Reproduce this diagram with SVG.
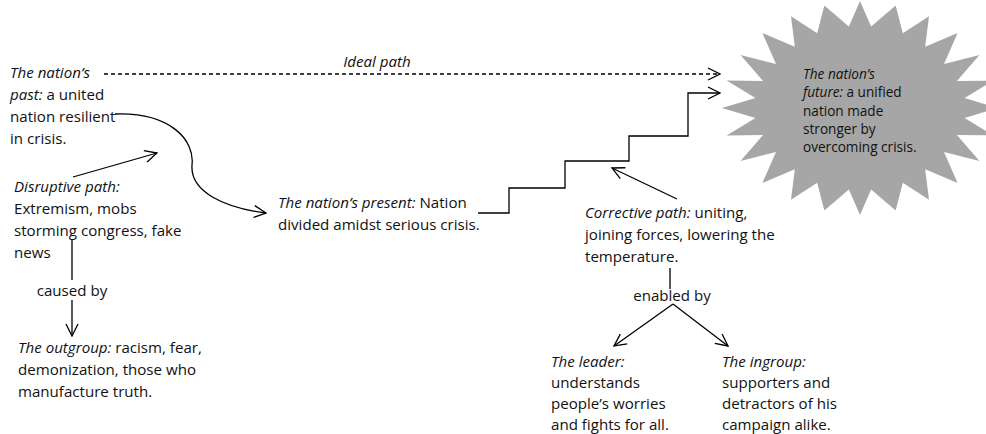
<svg xmlns="http://www.w3.org/2000/svg" width="986" height="434" viewBox="0 0 986 434">
<style>
text{font-family:"Open Sans",Lato,"Liberation Sans",sans-serif;font-size:15.1px;fill:#111}
.s{font-size:13.6px}
.i{font-style:italic}
.c{text-anchor:middle}
.ln{fill:none;stroke:#000;stroke-width:1.3}
.d{stroke-dasharray:4 3}
</style>
<defs>
<marker id="open" viewBox="0 0 14 14" refX="13" refY="7" markerWidth="14" markerHeight="14" markerUnits="userSpaceOnUse" orient="auto">
<path d="M1,1 L13,7 L1,13" fill="none" stroke="#000" stroke-width="1.3"/>
</marker>
</defs>
<g id="future">
<polygon fill="#a6a6a6" points="860,1 871.1,26.6 895.7,5.6 902.8,33.3 929,16.2 925.2,46.7 957.6,33.1 944,64.1 979.5,55 956.9,81.1 993.3,80.6 964.6,98.1 998,108 964.6,117.9 993.3,135.4 956.9,134.9 979.5,161 944,151.9 957.6,182.9 925.2,169.3 929,199.8 902.8,182.7 895.7,210.4 871.1,189.4 860,215 848.9,189.4 824.3,210.4 817.2,182.7 791,199.8 794.8,169.3 762.4,182.9 776,151.9 740.5,161 763.1,134.9 726.7,135.4 755.4,117.9 722,108 755.4,98.1 726.7,80.6 763.1,81.1 740.5,55 776,64.1 762.4,33.1 794.8,46.7 791,16.2 817.2,33.3 824.3,5.6 848.9,26.6"/>
</g>
<g id="connectors">
<path class="ln d" d="M104,74 H720" marker-end="url(#open)"/>
<path class="ln" d="M478,213 H509 V188 H565 V161 H629 V136 H688 V93 H720" marker-end="url(#open)"/>
<path class="ln" d="M115,114 C170,112 195,140 192,165 C190,192 225,208 266,213" marker-end="url(#open)"/>
<path class="ln" d="M73,177 L157,153" marker-end="url(#open)"/>
<path class="ln" d="M72,240 V280"/>
<path class="ln" d="M72,300 V336" marker-end="url(#open)"/>
<path class="ln" d="M677,199 L612,168" marker-end="url(#open)"/>
<path class="ln" d="M670,268 V289"/>
<path class="ln" d="M673,304 L614,346" marker-end="url(#open)"/>
<path class="ln" d="M673,304 L728,346" marker-end="url(#open)"/>
</g>
<g id="ideal-label"><text class="i c" x="377" y="67">Ideal path</text></g>
<g id="past">
<text x="10" y="78"><tspan class="i">The nation’s</tspan></text>
<text x="10" y="100"><tspan class="i">past:</tspan> a united</text>
<text x="10" y="122">nation resilient</text>
<text x="10" y="144">in crisis.</text>
</g>
<g id="disruptive">
<text x="14" y="192" class="i">Disruptive path:</text>
<text x="14" y="214">Extremism, mobs</text>
<text x="14" y="236">storming congress, fake</text>
<text x="14" y="258">news</text>
</g>
<g id="caused-label"><text class="c" x="72" y="296">caused by</text></g>
<g id="outgroup">
<text x="18" y="353"><tspan class="i">The outgroup:</tspan> racism, fear,</text>
<text x="18" y="375">demonization, those who</text>
<text x="18" y="397">manufacture truth.</text>
</g>
<g id="present">
<text x="278" y="208"><tspan class="i">The nation’s present:</tspan> Nation</text>
<text x="278" y="230">divided amidst serious crisis.</text>
</g>
<g id="corrective">
<text x="585" y="218"><tspan class="i">Corrective path:</tspan> uniting,</text>
<text x="585" y="240">joining forces, lowering the</text>
<text x="585" y="262">temperature.</text>
</g>
<g id="enabled-label"><text class="c" x="672" y="301">enabled by</text></g>
<g id="leader">
<text x="551" y="367" class="i">The leader:</text>
<text x="551" y="388">understands</text>
<text x="551" y="409">people’s worries</text>
<text x="551" y="430">and fights for all.</text>
</g>
<g id="ingroup">
<text x="722" y="367" class="i">The ingroup:</text>
<text x="722" y="388">supporters and</text>
<text x="722" y="409">detractors of his</text>
<text x="722" y="430">campaign alike.</text>
</g>
<g id="future-text">
<text class="s i" x="803" y="79">The nation’s</text>
<text class="s" x="803" y="97"><tspan class="i">future:</tspan> a unified</text>
<text class="s" x="803" y="116">nation made</text>
<text class="s" x="803" y="134">stronger by</text>
<text class="s" x="803" y="152">overcoming crisis.</text>
</g>
</svg>
